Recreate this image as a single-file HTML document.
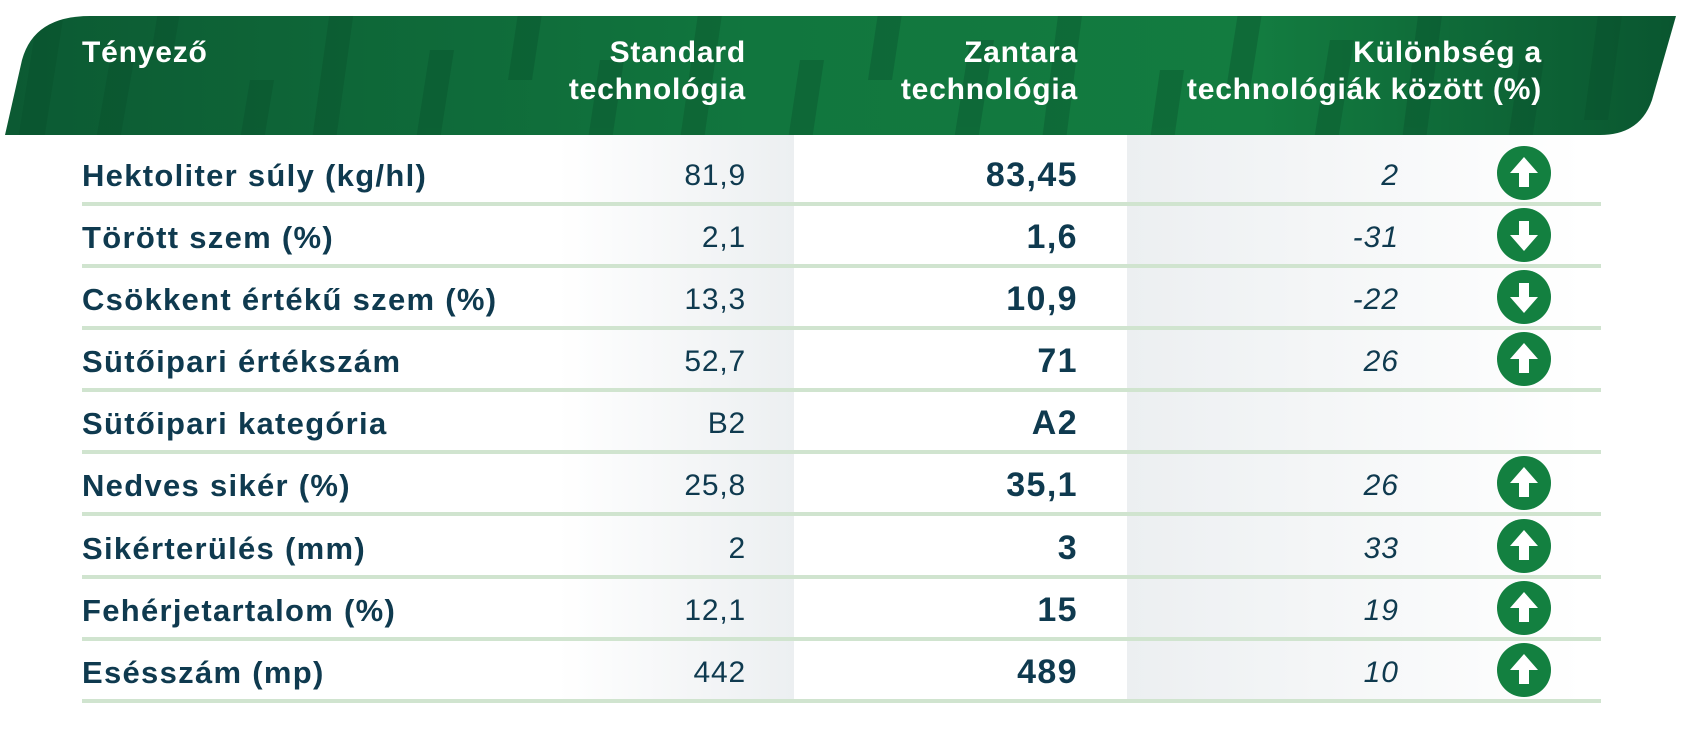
<!DOCTYPE html>
<html><head><meta charset="utf-8"><style>
*{margin:0;padding:0;box-sizing:border-box}
body{width:1682px;height:735px;background:#fff;position:relative;overflow:hidden;font-family:"Liberation Sans",sans-serif;color:#0f3a4f}
.a{position:absolute;white-space:nowrap}
.h{color:#fff;font-weight:bold;font-size:30px;line-height:37px;letter-spacing:0.8px}
.lab{left:82px;font-weight:bold;font-size:31px;letter-spacing:1.3px}
.s{right:936px;font-size:30px;letter-spacing:0.8px}
.z{right:604px;font-weight:bold;font-size:34px;letter-spacing:1.4px}
.d{right:283px;font-style:italic;font-size:30px;letter-spacing:1px}
.ln{position:absolute;left:82px;width:1519px;height:4px;background:#d0e4cf}
</style></head><body>
<div class="a" style="left:558px;top:135px;width:236px;height:567px;background:linear-gradient(90deg,#fff,#eceff1)"></div>
<div class="a" style="left:1127px;top:135px;width:456px;height:567px;background:linear-gradient(90deg,#eceff1,#fff)"></div>
<svg class="a" style="left:0;top:0" width="1682" height="140">
<defs>
<linearGradient id="g" x1="0" x2="1" y1="0" y2="0">
<stop offset="0" stop-color="#0c5a33"/><stop offset="0.45" stop-color="#11763e"/><stop offset="0.75" stop-color="#137c40"/><stop offset="1" stop-color="#0a5630"/>
</linearGradient>
<clipPath id="c"><path d="M5 135 L22 60 Q34 16 90 16 L1676 16 L1652 100 Q1640 135 1600 135 Z"/></clipPath>
</defs>
<path d="M5 135 L22 60 Q34 16 90 16 L1676 16 L1652 100 Q1640 135 1600 135 Z" fill="url(#g)"/>
<g clip-path="url(#c)" fill="#0a4f2c" opacity="0.35">
<path d="M40 0h26l-22 140h-26z"/><path d="M110 60h24l-14 80h-24z"/><path d="M160 0h22l-10 60h-22z"/>
<path d="M250 80h24l-10 60h-24z"/><path d="M330 10h24l-18 130h-24z"/><path d="M430 50h24l-14 90h-24z"/>
<path d="M520 0h24l-12 80h-24z"/><path d="M600 60h24l-12 80h-24z"/><path d="M700 0h24l-20 140h-24z"/>
<path d="M800 60h24l-12 80h-24z"/><path d="M880 0h24l-12 80h-24z"/><path d="M970 40h24l-16 100h-24z"/>
<path d="M1060 0h24l-18 140h-24z"/><path d="M1160 70h24l-10 70h-24z"/><path d="M1240 0h24l-14 90h-24z"/>
<path d="M1330 40h24l-16 100h-24z"/><path d="M1420 0h24l-18 140h-24z"/><path d="M1520 60h24l-12 80h-24z"/><path d="M1600 0h24l-16 120h-24z"/>
</g>
</svg>
<div class="a h" style="left:82px;top:34px">Tényező</div>
<div class="a h" style="right:936px;top:34px;text-align:right">Standard<br>technológia</div>
<div class="a h" style="right:604px;top:34px;text-align:right">Zantara<br>technológia</div>
<div class="a h" style="right:140px;top:34px;text-align:right">Különbség a<br>technológiák között (%)</div>

<div class="ln" style="top:202px"></div><div class="ln" style="top:264px"></div><div class="ln" style="top:326px"></div>
<div class="ln" style="top:388px"></div><div class="ln" style="top:450px"></div><div class="ln" style="top:512px"></div>
<div class="ln" style="top:575px"></div><div class="ln" style="top:637px"></div><div class="ln" style="top:699px"></div>

<div class="a lab" style="top:158px">Hektoliter súly (kg/hl)</div><div class="a s" style="top:159px">81,9</div><div class="a z" style="top:156px">83,45</div><div class="a d" style="top:159px">2</div>
<div class="a lab" style="top:220px">Törött szem (%)</div><div class="a s" style="top:221px">2,1</div><div class="a z" style="top:218px">1,6</div><div class="a d" style="top:221px">-31</div>
<div class="a lab" style="top:282px">Csökkent értékű szem (%)</div><div class="a s" style="top:283px">13,3</div><div class="a z" style="top:280px">10,9</div><div class="a d" style="top:283px">-22</div>
<div class="a lab" style="top:344px">Sütőipari értékszám</div><div class="a s" style="top:345px">52,7</div><div class="a z" style="top:342px">71</div><div class="a d" style="top:345px">26</div>
<div class="a lab" style="top:406px">Sütőipari kategória</div><div class="a s" style="top:407px">B2</div><div class="a z" style="top:404px">A2</div>
<div class="a lab" style="top:468px">Nedves sikér (%)</div><div class="a s" style="top:469px">25,8</div><div class="a z" style="top:466px">35,1</div><div class="a d" style="top:469px">26</div>
<div class="a lab" style="top:531px">Sikérterülés (mm)</div><div class="a s" style="top:532px">2</div><div class="a z" style="top:529px">3</div><div class="a d" style="top:532px">33</div>
<div class="a lab" style="top:593px">Fehérjetartalom (%)</div><div class="a s" style="top:594px">12,1</div><div class="a z" style="top:591px">15</div><div class="a d" style="top:594px">19</div>
<div class="a lab" style="top:655px">Esésszám (mp)</div><div class="a s" style="top:656px">442</div><div class="a z" style="top:653px">489</div><div class="a d" style="top:656px">10</div>

<svg class="a" style="left:0;top:0" width="1682" height="735">
<defs>
<g id="up"><circle r="27" fill="#138040"/><path d="M0 -16 L14 0 H5 V14 H-5 V0 H-14 Z" fill="#fff"/></g>
<g id="dn"><circle r="27" fill="#138040"/><path d="M0 16 L14 0 H5 V-14 H-5 V0 H-14 Z" fill="#fff"/></g>
</defs>
<use href="#up" x="1524" y="173"/>
<use href="#dn" x="1524" y="235"/>
<use href="#dn" x="1524" y="297"/>
<use href="#up" x="1524" y="359"/>
<use href="#up" x="1524" y="483"/>
<use href="#up" x="1524" y="546"/>
<use href="#up" x="1524" y="608"/>
<use href="#up" x="1524" y="670"/>
</svg>
</body></html>
